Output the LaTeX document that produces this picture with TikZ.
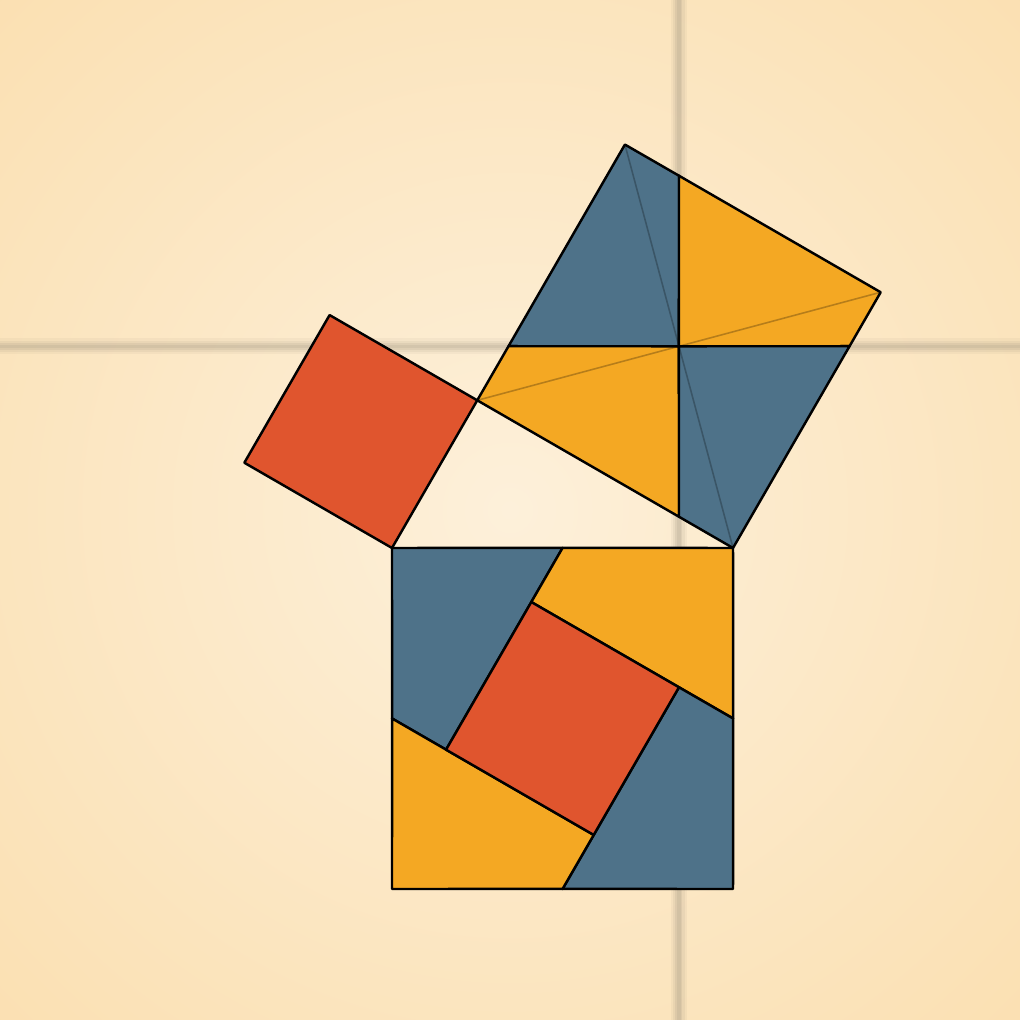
\documentclass[tikz,border=0pt]{standalone}
\usetikzlibrary{calc}
\definecolor{slate}{HTML}{4E7289}
\definecolor{amber}{HTML}{F4A823}
\definecolor{brick}{HTML}{E0552E}
\definecolor{paperin}{HTML}{FDF0DA}
\definecolor{paperout}{HTML}{F8D08B}
\definecolor{haze}{RGB}{150,140,120}

\begin{document}
\begin{tikzpicture}[
    piece/.style={draw=black, line width=0.7pt, line join=round},
    diag/.style={draw=black, opacity=0.25, line width=0.45pt}
  ]
    % Background
    \coordinate (bl) at (0,0);
    \coordinate (tr) at (10.2,10.2);
    \coordinate (mid) at ($(bl)!0.5!(tr)$);
    \useasboundingbox (bl) rectangle (tr);
    \begin{scope}
        \clip (bl) rectangle (tr);
        \shade[inner color=paperin, outer color=paperout] (mid) circle (14.4);
    \end{scope}

    % Right triangle, right angle at C
    \coordinate (A) at (3.92,4.72);
    \coordinate (B) at (7.33,4.72);
    \coordinate (C) at ($(A)+(60:1.705)$);

    % Squares on the sides
    \coordinate (H) at ($(C)!1!-90:(A)$);
    \coordinate (I) at ($(A)!1!90:(C)$);
    \coordinate (D) at ($(B)!1!-90:(C)$);
    \coordinate (E) at ($(C)!1!90:(B)$);
    \coordinate (F) at ($(B)!1!90:(A)$);
    \coordinate (G) at ($(A)!1!-90:(B)$);

    % Cuts through the centre of the large square
    \coordinate (O) at ($(C)!0.5!(D)$);
    \coordinate (Ov) at (O |- bl);
    \coordinate (Oh) at (O -| bl);
    \coordinate (P1) at (intersection of O--Ov and C--B);
    \coordinate (P2) at (intersection of O--Ov and E--D);
    \coordinate (P3) at (intersection of O--Oh and C--E);
    \coordinate (P4) at (intersection of O--Oh and B--D);

    % Blurred guide lines
    \foreach \w/\o in {4.5/0.08, 3.2/0.1, 2/0.14, 1/0.14} {
        \draw[haze, line width=\w pt, opacity=\o] (O |- bl) -- (O |- tr);
        \draw[haze, line width=\w pt, opacity=\o] (O -| bl) -- (O -| tr);
    }

    % Small square
    \draw[piece, fill=brick] (A) -- (C) -- (H) -- (I) -- cycle;

    % Large square, four pieces
    \draw[piece, fill=slate] (E) -- (P2) -- (O) -- (P3) -- cycle;
    \draw[piece, fill=amber] (P2) -- (D) -- (P4) -- (O) -- cycle;
    \draw[piece, fill=amber] (P3) -- (O) -- (P1) -- (C) -- cycle;
    \draw[piece, fill=slate] (O) -- (P4) -- (B) -- (P1) -- cycle;
    \draw[diag] (C) -- (D);
    \draw[diag] (E) -- (B);

    % Pieces moved into the square on the hypotenuse
    \coordinate (a1) at ($(P4)+(A)-(O)$);
    \coordinate (a2) at ($(B)+(A)-(O)$);
    \coordinate (a3) at ($(P1)+(A)-(O)$);
    \coordinate (b1) at ($(P1)+(B)-(O)$);
    \coordinate (b2) at ($(C)+(B)-(O)$);
    \coordinate (b3) at ($(P3)+(B)-(O)$);
    \coordinate (f1) at ($(P2)+(F)-(O)$);
    \coordinate (f2) at ($(E)+(F)-(O)$);
    \coordinate (f3) at ($(P3)+(F)-(O)$);
    \coordinate (g1) at ($(P4)+(G)-(O)$);
    \coordinate (g2) at ($(D)+(G)-(O)$);
    \coordinate (g3) at ($(P2)+(G)-(O)$);

    \draw[piece, fill=slate] (A) -- (a1) -- (a2) -- (a3) -- cycle;
    \draw[piece, fill=amber] (B) -- (b1) -- (b2) -- (b3) -- cycle;
    \draw[piece, fill=slate] (F) -- (f1) -- (f2) -- (f3) -- cycle;
    \draw[piece, fill=amber] (G) -- (g1) -- (g2) -- (g3) -- cycle;
    \draw[piece, fill=brick] (b2) -- (f2) -- (g2) -- (a2) -- cycle;
\end{tikzpicture}
\end{document}
